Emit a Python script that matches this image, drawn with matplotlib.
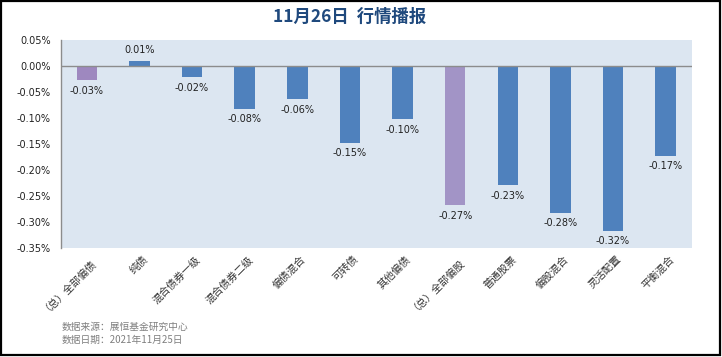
import matplotlib
matplotlib.use("Agg")
import matplotlib.pyplot as plt
from matplotlib.patches import Rectangle
from matplotlib.ticker import FuncFormatter, MultipleLocator
from matplotlib.transforms import ScaledTranslation

plt.rcParams['font.family'] = ['Noto Sans CJK SC', 'DejaVu Sans']

categories = ['（总）全部偏债', '纯债', '混合债券一级', '混合债券二级', '偏债混合', '可转债',
              '其他偏债', '（总）全部偏股', '普通股票', '偏股混合', '灵活配置', '平衡混合']
values = [-0.028, 0.0095, -0.022, -0.083, -0.064, -0.148, -0.103, -0.268, -0.229, -0.282, -0.316, -0.173]
labels = ['-0.03%', '0.01%', '-0.02%', '-0.08%', '-0.06%', '-0.15%', '-0.10%', '-0.27%',
          '-0.23%', '-0.28%', '-0.32%', '-0.17%']
is_total = [True, False, False, False, False, False, False, True, False, False, False, False]

title = '11月26日  行情播报'
source = '数据来源：展恒基金研究中心'
date = '数据日期：2021年11月25日'

W, H = 722, 357
fig = plt.figure(figsize=(W / 100, H / 100), dpi=100)
fig.patch.set_facecolor('white')

# border
fig.add_artist(Rectangle((1 / W, 2 / H), (W - 3) / W, (H - 3) / H, transform=fig.transFigure,
                         fill=False, edgecolor='black', linewidth=1.6))

left, right, top, bottom = 60.5, 692, 39.5, 248.3
ax = fig.add_axes([left / W, 1 - bottom / H, (right - left) / W, (bottom - top) / H])
ax.set_facecolor('#DCE6F1')

colors = ['#A294C6' if t else '#4F81BD' for t in is_total]
colors[0] = '#9E88BF'
x = list(range(len(categories)))
ax.bar(x, values, width=0.39, color=colors, zorder=2)
ax.axhline(0, color='#8C8C8C', linewidth=1.0, zorder=3)

ax.set_xlim(-0.5, len(categories) - 0.5)
ax.set_ylim(-0.35, 0.05)
ax.yaxis.set_major_locator(MultipleLocator(0.05))
ax.yaxis.set_major_formatter(FuncFormatter(lambda v, p: f'{v:.2f}%'))
ax.tick_params(axis='y', length=0, labelsize=7, pad=7, labelcolor='#222222')
for t in ax.get_yticklabels():
    t.set_family(['DejaVu Sans'])

for s in ['top', 'right', 'bottom']:
    ax.spines[s].set_visible(False)
ax.spines['left'].set_color('#8C8C8C')
ax.spines['left'].set_linewidth(1.0)

for xi, v, lab in zip(x, values, labels):
    if v >= 0:
        ax.annotate(lab, (xi, v), xytext=(0, 4), textcoords='offset points', ha='center',
                    va='bottom', fontsize=7, color='#222222', family=['DejaVu Sans'])
    else:
        ax.annotate(lab, (xi, v), xytext=(0, -4), textcoords='offset points', ha='center',
                    va='top', fontsize=7, color='#222222', family=['DejaVu Sans'])

ax.set_xticks(x)
ax.set_xticklabels(categories, rotation=45, ha='right', va='top', rotation_mode='anchor',
                   fontsize=7.5, color='#333333')
ax.tick_params(axis='x', length=0, pad=4)
shift = ScaledTranslation(3 / 100, 0, fig.dpi_scale_trans)
for t in ax.get_xticklabels():
    t.set_transform(t.get_transform() + shift)

fig.text(350 / W, 1 - 17 / H, title, ha='center', va='center', fontsize=12.5,
         fontweight='bold', color='#1F497D')
fig.text(62 / W, 1 - 327 / H, source, ha='left', va='center', fontsize=7, color='#7F7F7F')
fig.text(62 / W, 1 - 340 / H, date, ha='left', va='center', fontsize=7, color='#7F7F7F')

fig.savefig('out.png', dpi=100, facecolor='white')
